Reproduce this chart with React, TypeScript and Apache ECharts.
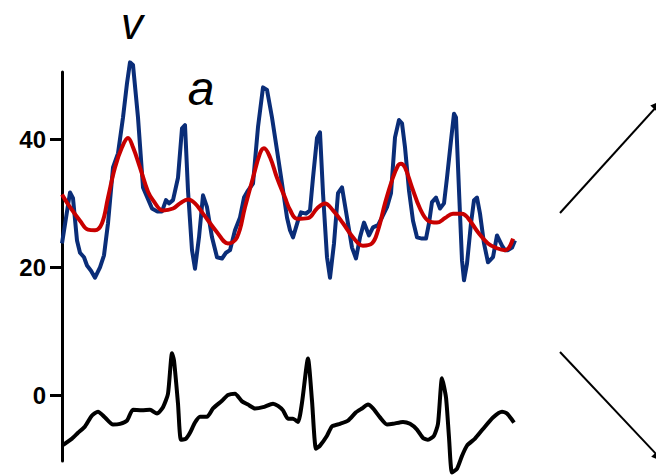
import React, { useEffect, useRef } from "react";
import * as echarts from "echarts";

// time (sample offset from the axis) for each read value
const blueT = [0, 8, 11, 15, 18, 22, 25, 29, 33, 38, 42, 46, 51, 56, 61, 65, 68, 71, 76, 81, 90, 95, 100, 104, 107, 111, 116, 120, 123, 126, 130, 133, 137, 141, 145, 150, 155, 160, 164, 168, 173, 178, 182, 186, 191, 196, 201, 205, 210, 215, 220, 225, 228, 231, 236, 239, 244, 248, 251, 255, 258, 261, 265, 268, 272, 276, 280, 285, 290, 294, 298, 302, 307, 311, 316, 320, 325, 329, 333, 337, 340, 343, 347, 351, 355, 360, 364, 367, 370, 374, 378, 382, 385, 389, 392, 394, 397, 400, 402, 405, 409, 412, 415, 418, 422, 426, 431, 435, 440, 443, 446, 450, 453];
const blueV = [23.75, 31.7, 30.8, 24.2, 22.3, 21.6, 20.3, 19.5, 18.4, 20, 21.9, 26.9, 35.6, 37.8, 43.4, 48.75, 52, 51.6, 43.4, 32.5, 29.2, 28.75, 28.75, 30.5, 30, 30.5, 34, 41.7, 42.2, 32, 22.7, 19.8, 24.7, 31.25, 29.4, 24.7, 21.6, 21.4, 22.3, 22.7, 25.8, 27.8, 30.9, 32, 33.1, 41.9, 48.1, 47.7, 43.4, 38.3, 33.1, 27.8, 25.8, 24.7, 27.3, 28.6, 28.4, 28.9, 34, 40.2, 41.1, 31.6, 21.6, 18.4, 23.75, 31.6, 32.5, 27.8, 23.1, 21.4, 24.7, 27, 25, 26.25, 26.6, 27.8, 29.4, 31.6, 40.3, 43, 42.5, 38.75, 32, 27.3, 24.7, 24.5, 24.5, 26.9, 30.2, 30.9, 29.2, 30, 34, 39.8, 44, 43.4, 32, 21.1, 18, 20.6, 26.9, 30.5, 30.9, 28.4, 23.75, 20.8, 21.6, 25, 23.4, 22.7, 22.7, 23.1, 24.2];

const redT = [0, 8, 18, 26, 33, 40, 46, 53, 60, 66, 71, 78, 86, 91, 101, 111, 118, 126, 133, 141, 155, 166, 175, 183, 191, 198, 202, 208, 215, 223, 228, 235, 246, 255, 263, 271, 281, 291, 301, 310, 316, 323, 330, 336, 339, 343, 350, 358, 366, 375, 383, 391, 400, 406, 416, 426, 435, 443, 447, 451];
const redV = [31.4, 29.4, 27.3, 25.9, 25.8, 26.9, 30.9, 35.6, 38.75, 40.2, 38.75, 35.6, 31.8, 30.5, 28.9, 29.2, 30, 30.6, 30, 28.4, 25.5, 23.75, 24.7, 29.4, 34, 37.8, 38.6, 37.2, 34, 30.9, 29, 27.6, 27.7, 29.2, 30, 28.9, 26.9, 24.7, 23.4, 23.75, 25.8, 30, 33.6, 35.9, 36.2, 35.6, 32.5, 29.2, 27.3, 27, 27.7, 28.4, 28.4, 27.7, 25.5, 23.75, 23, 22.7, 23.1, 24.5];

const ecgT = [0, 10, 16, 23, 30, 36, 43, 51, 58, 65, 71, 80, 88, 95, 101, 106, 110, 112, 116, 119, 124, 128, 133, 138, 145, 151, 160, 166, 173, 180, 186, 193, 201, 211, 216, 221, 226, 231, 236, 240, 246, 250, 254, 258, 265, 270, 278, 286, 294, 300, 306, 311, 318, 325, 331, 341, 348, 355, 361, 366, 372, 376, 380, 384, 387, 390, 395, 400, 405, 413, 421, 431, 440, 445, 452];
const ecgV = [-7.8, -6.7, -5.8, -4.8, -3.1, -2.5, -3.4, -4.5, -4.4, -3.9, -2.2, -2.3, -2.2, -2.8, -1.8, 0.3, 6.6, 5.5, -1.25, -6.9, -6.7, -5.8, -4.2, -3.3, -3.3, -2, -0.8, 0.1, 0.3, -0.9, -1.4, -2, -1.8, -1.25, -1.6, -2.3, -3.6, -3.6, -4.1, -1.1, 5.8, -0.8, -8.3, -7.8, -6.25, -4.8, -4.4, -3.9, -2.6, -2, -1.4, -2, -3.4, -4.5, -4.4, -4.1, -4.4, -5.3, -6.6, -6.9, -6.25, -4.4, 2.7, -0.3, -6.5, -12, -11.4, -9.4, -7.8, -6.7, -5.2, -3.4, -2.5, -2.8, -4.2];

const yTicks = [0, 20, 40];

const FONT = "'Liberation Sans', Arial, sans-serif";

function pairs(t: number[], v: number[]) {
  return t.map((x, i) => [x, v[i]]);
}

export default function App() {
  const ref = useRef<HTMLDivElement>(null);
  useEffect(() => {
    if (!ref.current) return;
    const chart = echarts.init(ref.current, undefined, { renderer: "svg" });
    chart.setOption({
      animation: false,
      backgroundColor: "#ffffff",
      grid: { left: 62, right: 141, top: 72, bottom: 14 },
      xAxis: { type: "value", min: 0, max: 453, show: false },
      yAxis: {
        type: "value",
        min: -10.2,
        max: 50.5,
        splitLine: { show: false },
        axisLine: { show: true, lineStyle: { color: "#000", width: 3 } },
        axisTick: { show: true, customValues: yTicks, length: 12, lineStyle: { color: "#000", width: 3 } },
        axisLabel: {
          customValues: yTicks,
          color: "#000",
          fontSize: 24,
          fontWeight: "bold",
          fontFamily: FONT,
          margin: 16,
        },
      },
      series: [
        {
          type: "line",
          data: pairs(ecgT, ecgV),
          symbol: "none",
          clip: false,
          smooth: 0.2,
          lineStyle: { color: "#000000", width: 4, join: "round" },
        },
        {
          type: "line",
          data: pairs(blueT, blueV),
          symbol: "none",
          clip: false,
          lineStyle: { color: "#0a2d78", width: 4, join: "round" },
        },
        {
          type: "line",
          data: pairs(redT, redV),
          symbol: "none",
          clip: false,
          smooth: 0.4,
          lineStyle: { color: "#c80000", width: 4, join: "round" },
        },
      ],
      graphic: [
        {
          type: "text",
          x: 132,
          y: 1,
          style: {
            text: "v",
            font: `italic 44px ${FONT}`,
            fill: "#000",
            textAlign: "center",
            textVerticalAlign: "top",
          },
        },
        {
          type: "text",
          x: 201,
          y: 88,
          style: {
            text: "a",
            font: `italic 48px ${FONT}`,
            fill: "#000",
            textAlign: "center",
            textVerticalAlign: "middle",
          },
        },
        {
          type: "line",
          shape: { x1: 560, y1: 213, x2: 658, y2: 105 },
          style: { stroke: "#000", lineWidth: 2 },
        },
        {
          type: "polygon",
          shape: { points: [[663, 100], [657.7, 112.4], [650.3, 105.6]] },
          style: { fill: "#000" },
        },
        {
          type: "line",
          shape: { x1: 560, y1: 352, x2: 658, y2: 456 },
          style: { stroke: "#000", lineWidth: 2 },
        },
        {
          type: "polygon",
          shape: { points: [[663, 462], [658.4, 449.9], [651.2, 456.7]] },
          style: { fill: "#000" },
        },
      ],
    });
    return () => chart.dispose();
  }, []);
  return (
    <div
      ref={ref}
      style={{ position: "fixed", left: 0, top: 0, width: 656, height: 475, background: "#fff" }}
    />
  );
}
